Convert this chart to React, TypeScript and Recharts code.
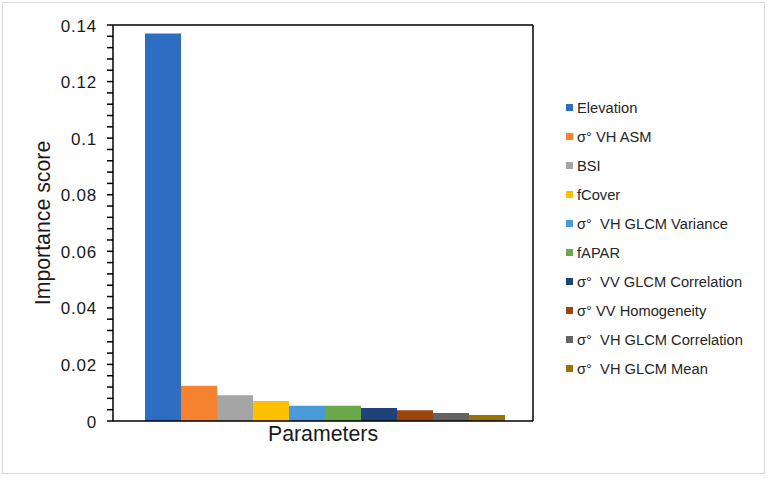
import React from 'react';
import { BarChart, Bar, XAxis, YAxis, Legend, Label } from 'recharts';

const categories = [''];
const seriesNames = [
  'Elevation',
  'σ° VH ASM',
  'BSI',
  'fCover',
  'σ°  VH GLCM Variance',
  'fAPAR',
  'σ°  VV GLCM Correlation',
  'σ° VV Homogeneity',
  'σ°  VH GLCM Correlation',
  'σ°  VH GLCM Mean',
];
const seriesValues = [0.137, 0.0125, 0.0091, 0.0071, 0.0054, 0.0054, 0.0046, 0.0038, 0.0028, 0.0021];
const seriesColors = [
  '#2F6DC1',
  '#F5822F',
  '#A5A5A5',
  '#FFC000',
  '#4A9AD9',
  '#6AA84A',
  '#1F4279',
  '#9C460D',
  '#636363',
  '#9A7200',
];
const majorTicks = [0, 0.02, 0.04, 0.06, 0.08, 0.1, 0.12, 0.14];
const minorPerMajor = 5;

const allTicks: number[] = [];
majorTicks.forEach((m, i) => {
  allTicks.push(m);
  if (i < majorTicks.length - 1) {
    const step = (majorTicks[i + 1] - m) / minorPerMajor;
    for (let k = 1; k < minorPerMajor; k++) allTicks.push(+(m + step * k).toFixed(4));
  }
});

const data = categories.map((c) => {
  const row: Record<string, any> = { cat: c };
  seriesValues.forEach((v, i) => {
    row[`s${i}`] = v;
  });
  return row;
});

const FONT = '"Liberation Sans", Arial, Helvetica, sans-serif';

const YTick = (props: any) => {
  const { x, y, payload } = props;
  const v = payload.value as number;
  const major = majorTicks.some((m) => Math.abs(m - v) < 1e-9);
  if (!major) return <g />;
  return (
    <text x={x} y={y + 6.5} textAnchor="end" fontSize={17} fill="#1a1a1a" fontFamily={FONT} letterSpacing={0.8}>
      {v === 0 ? '0' : String(+v.toFixed(3))}
    </text>
  );
};

const LegendContent = () => (
  <div style={{ fontFamily: FONT, fontSize: 14.7, color: '#262626' }}>
    {seriesNames.map((n, i) => (
      <div key={n} style={{ height: 29, display: 'flex', alignItems: 'center', whiteSpace: 'pre' }}>
        <span
          style={{
            display: 'inline-block',
            width: 7,
            height: 7,
            background: seriesColors[i],
            marginRight: 4,
          }}
        />
        <span>{n}</span>
      </div>
    ))}
  </div>
);

export default function App() {
  return (
    <div style={{ position: 'absolute', left: 0, top: 0, width: 768, height: 478 }}>
      <BarChart
        width={768}
        height={478}
        data={data}
        margin={{ top: 24, right: 234, bottom: 26, left: 67 }}
        barCategoryGap={32}
        barGap={0}
      >
        <XAxis dataKey="cat" height={31} tick={false} tickLine={false} stroke="#000" strokeWidth={1.5}>
          <Label value="Parameters" position="insideTop" offset={5} style={{ fontSize: 21.3, fill: '#1a1a1a', fontFamily: FONT }} />
        </XAxis>
        <XAxis xAxisId="t" dataKey="cat" orientation="top" height={1} tick={false} tickLine={false} stroke="#000" strokeWidth={1.5} />
        <YAxis
          width={46}
          domain={[0, 0.14]}
          ticks={allTicks}
          interval={0}
          tickSize={6}
          tickMargin={10}
          tickLine={{ stroke: '#000', strokeWidth: 1.5 }}
          tick={<YTick />}
          stroke="#000"
          strokeWidth={1.5}
        >
          <Label
            value="Importance score"
            angle={-90}
            position="insideLeft"
            offset={-25}
            style={{ fontSize: 21.3, fill: '#1a1a1a', fontFamily: FONT, textAnchor: 'middle' }}
          />
        </YAxis>
        <YAxis yAxisId="r" orientation="right" width={1} domain={[0, 0.14]} tick={false} tickLine={false} stroke="#000" strokeWidth={1.5} />
        <Legend
          layout="vertical"
          align="center"
          verticalAlign="middle"
          content={<LegendContent />}
          wrapperStyle={{ left: 566, top: 93, width: 200, height: 'auto' }}
        />
        {seriesNames.map((n, i) => (
          <Bar key={n} dataKey={`s${i}`} name={n} fill={seriesColors[i]} isAnimationActive={false} />
        ))}
      </BarChart>
      <div
        style={{
          position: 'absolute',
          left: 2,
          top: 2,
          width: 763,
          height: 472,
          border: '1.5px solid #D9D9D9',
          boxSizing: 'border-box',
          pointerEvents: 'none',
        }}
      />
    </div>
  );
}
